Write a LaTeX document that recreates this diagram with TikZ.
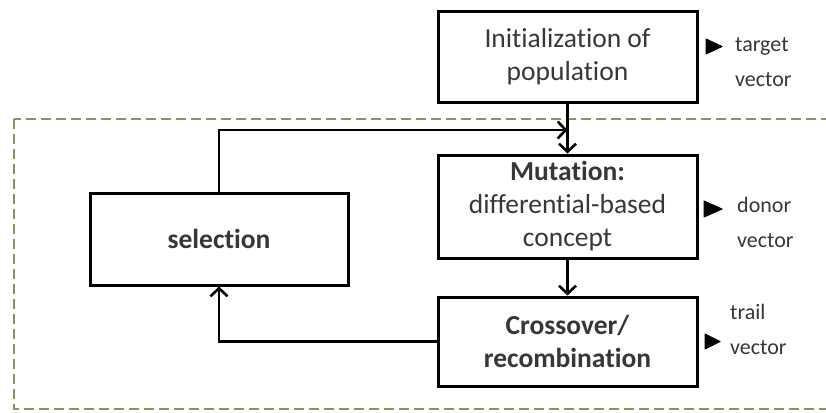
\documentclass[tikz,border=0pt]{standalone}
\usepackage{fontspec}
\setmainfont{Carlito}[Ligatures=NoCommon]
\usetikzlibrary{arrows.meta}
\definecolor{dashc}{RGB}{150,140,95}
\definecolor{txt}{RGB}{55,55,55}
\begin{document}
\begin{tikzpicture}[x=1pt,y=-1pt,
  box/.style={draw=black,line width=3pt,minimum width=259pt,align=center,font=\fontsize{27.5}{33}\selectfont,text=txt,inner sep=0pt},
  conn/.style={line width=2.8pt,-{Straight Barb[length=8pt,width=17pt,line width=2.6pt]}},
  side/.style={align=left,font=\fontsize{22}{35}\selectfont,text=txt,anchor=west,inner sep=0pt},
  tri/.style={fill=black,draw=black,line width=1pt,line join=round}]
\useasboundingbox (0,0) rectangle (826,412);
\clip (0,0) rectangle (826,412);
\fill[white] (0,0) rectangle (826,412);
\draw[dashc,line width=2.6pt,dash pattern=on 10pt off 5pt] (14,119) rectangle (860,409);
\node[box,minimum height=90pt] (init) at (567.5,57) {Initialization of\\population};
\node[box,minimum height=103pt] (mut) at (567.5,206.5) {\textbf{Mutation:}\\differential-based\\concept};
\node[box,minimum height=89pt] (cross) at (567.5,341.5) {\textbf{Crossover/}\\\textbf{recombination}};
\node[box,minimum width=258pt,minimum height=92pt] (sel) at (219,239) {\textbf{selection}};
\coordinate (j) at (567.5,130);
\draw[conn] (init) -- (mut);
\draw[conn] (mut) -- (cross);
\draw[conn] (sel.north) |- (j);
\draw[conn] (cross.west) -| (sel.south);
\node[side] (tv) at (735,62) {target\\vector};
\node[side] (dv) at (737,222) {donor\\vector};
\node[side] (rv) at (730,329) {trail\\vector};
\draw[tri] (706,39) -- (722,46.5) -- (706,54) -- cycle;
\draw[tri] (704,201) -- (722,209) -- (704,217) -- cycle;
\draw[tri] (705,334) -- (720,341.5) -- (705,349) -- cycle;
\end{tikzpicture}
\end{document}
